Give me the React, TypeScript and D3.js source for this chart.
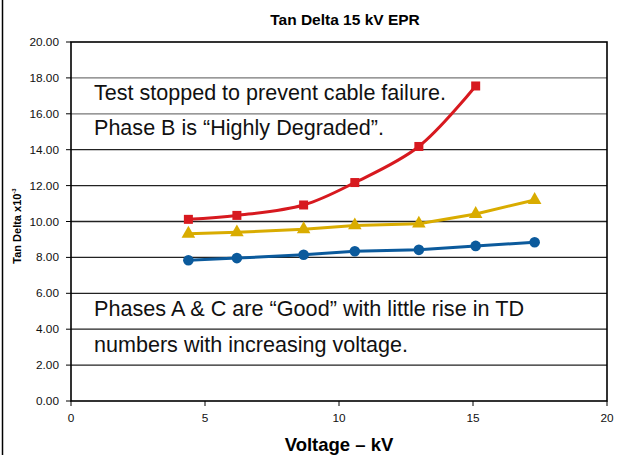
import React from "react";
import * as d3 from "d3";

const voltages = [4.38, 6.19, 8.68, 10.59, 12.98, 15.1, 17.3];
const phaseB = [10.12, 10.34, 10.92, 12.17, 14.18, 17.55];
const phaseC = [9.32, 9.4, 9.57, 9.78, 9.88, 10.42, 11.2];
const phaseA = [7.84, 7.96, 8.15, 8.34, 8.42, 8.64, 8.84];
const yTicks = [0, 2, 4, 6, 8, 10, 12, 14, 16, 18, 20];
const xTicks = [0, 5, 10, 15, 20];
const notes = [
  { text: "Test stopped to prevent cable failure.", y: 16.77, len: 352 },
  { text: "Phase B is \u201cHighly Degraded\u201d.", y: 14.82, len: 290 },
  { text: "Phases A & C are \u201cGood\u201d with little rise in TD", y: 4.74, len: 430 },
  { text: "numbers with increasing voltage.", y: 2.73, len: 314 },
];

const W = 627;
const H = 455;
const M = { left: 71, right: 607, top: 42, bottom: 401 };

export default function App() {
  const x = d3.scaleLinear().domain([0, 20]).range([M.left, M.right]);
  const y = d3.scaleLinear().domain([0, 20]).range([M.bottom, M.top]);
  const font = "'Liberation Sans', Arial, sans-serif";

  const mk = (vals: number[]) => vals.map((v, i) => [voltages[i], v] as [number, number]);
  const lineSmooth = d3
    .line<[number, number]>()
    .x((d) => x(d[0]))
    .y((d) => y(d[1]))
    .curve(d3.curveCatmullRom.alpha(0.5));
  const lineStraight = d3
    .line<[number, number]>()
    .x((d) => x(d[0]))
    .y((d) => y(d[1]));

  const red = "#d7191f";
  const gold = "#d9ac00";
  const blue = "#0b5a9c";
  const tri = d3.symbol().type(d3.symbolTriangle).size(80)();

  return (
    <svg
      width={W}
      height={H}
      style={{ position: "absolute", left: 0, top: 0, background: "#fff" }}
    >
      <rect x={0} y={0} width={W} height={H} fill="#fff" />
      <line x1={2.5} x2={2.5} y1={0} y2={H} stroke="#000" strokeWidth={1.5} />
      <text x={345} y={25} textAnchor="middle" fontFamily={font} fontWeight="bold" fontSize={15.5}>
        Tan Delta 15 kV EPR
      </text>
      {yTicks.map((t) => (
        <g key={"y" + t}>
          {t > 0 && t < 20 && (
            <line x1={M.left} x2={M.right} y1={y(t)} y2={y(t)} stroke={t >= 16 ? "#777" : "#222"} strokeWidth={1.3} />
          )}
          <line x1={M.left - 5} x2={M.left} y1={y(t)} y2={y(t)} stroke="#000" strokeWidth={1} />
          <text x={59} y={y(t) + 4} textAnchor="end" fontFamily={font} fontSize={11.8} fill="#111">
            {t.toFixed(2)}
          </text>
        </g>
      ))}
      {xTicks.map((t) => (
        <g key={"x" + t}>
          <line x1={x(t)} x2={x(t)} y1={M.bottom} y2={M.bottom + 5} stroke="#000" strokeWidth={1} />
          <text x={x(t)} y={M.bottom + 21} textAnchor="middle" fontFamily={font} fontSize={11.8} fill="#111">
            {t}
          </text>
        </g>
      ))}
      <rect
        x={M.left}
        y={M.top}
        width={M.right - M.left}
        height={M.bottom - M.top}
        fill="none"
        stroke="#000"
        strokeWidth={1.6}
      />
      <text x={339} y={451} textAnchor="middle" fontFamily={font} fontWeight="bold" fontSize={18.5}>
        Voltage – kV
      </text>
      <text
        transform={`translate(21,${226}) rotate(-90)`}
        textAnchor="middle"
        fontFamily={font}
        fontWeight="bold"
        fontSize={11}
      >
        Tan Delta x10
        <tspan fontSize={6} dy={-5}>-3</tspan>
      </text>
      {notes.map((n) => (
        <text
          key={n.text}
          x={94}
          y={y(n.y)}
          fontFamily={font}
          fontSize={22.5}
          fill="#111"
          textLength={n.len}
          lengthAdjust="spacingAndGlyphs"
        >
          {n.text}
        </text>
      ))}
      <path d={lineStraight(mk(phaseA)) || ""} fill="none" stroke={blue} strokeWidth={3} />
      {mk(phaseA).map((d, i) => (
        <circle key={"a" + i} cx={x(d[0])} cy={y(d[1])} r={5.3} fill={blue} />
      ))}
      <path d={lineStraight(mk(phaseC)) || ""} fill="none" stroke={gold} strokeWidth={3} />
      {mk(phaseC).map((d, i) => (
        <path key={"c" + i} d={tri || ""} transform={`translate(${x(d[0])},${y(d[1])})`} fill={gold} />
      ))}
      <path d={lineSmooth(mk(phaseB)) || ""} fill="none" stroke={red} strokeWidth={3} />
      {mk(phaseB).map((d, i) => (
        <rect key={"b" + i} x={x(d[0]) - 4.5} y={y(d[1]) - 4.5} width={9} height={9} fill={red} />
      ))}
    </svg>
  );
}
